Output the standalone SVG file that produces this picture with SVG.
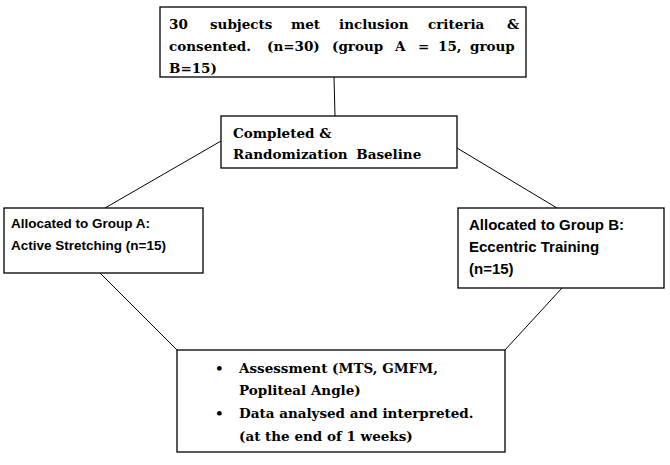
<svg xmlns="http://www.w3.org/2000/svg" width="670" height="465" viewBox="0 0 670 465">
<style>
rect{fill:#fff;stroke:#000;stroke-width:1.3}
.s{font-family:"DejaVu Serif","Liberation Serif",serif;font-weight:bold;font-size:13.5px;fill:#000}
.a{font-family:"Liberation Sans",Arial,sans-serif;font-weight:bold;font-size:13.5px;fill:#000}
#edges line{stroke:#000;stroke-width:1}
</style>
<rect width="670" height="465" style="fill:#fff;stroke:none"/>
<g id="edges">
<line x1="334" y1="77" x2="335" y2="116"/>
<line x1="221" y1="141" x2="105" y2="208"/>
<line x1="457" y1="148" x2="557" y2="208"/>
<line x1="100" y1="273" x2="177" y2="350"/>
<line x1="562" y1="288" x2="505" y2="350"/>
</g>
<g id="n1"><rect x="160" y="7" width="366" height="70"/>
<text class="s" y="29"><tspan x="169">30</tspan><tspan x="210">subjects</tspan><tspan x="291">met</tspan><tspan x="339">inclusion</tspan><tspan x="428">criteria</tspan><tspan x="507">&amp;</tspan></text>
<text class="s" y="51"><tspan x="169">consented.</tspan><tspan x="267">(n=30)</tspan><tspan x="332">(group</tspan><tspan x="395">A</tspan><tspan x="418">=</tspan><tspan x="438">15,</tspan><tspan x="470">group</tspan></text>
<text class="s" x="169" y="73">B=15)</text></g>
<g id="n2"><rect x="221" y="116" width="236" height="52"/>
<text class="s" x="233" y="138">Completed &amp;</text>
<text class="s" x="233" y="159" word-spacing="4">Randomization Baseline</text></g>
<g id="n3"><rect x="4" y="208" width="199" height="65"/>
<text class="a" x="11" y="228">Allocated to Group A:</text>
<text class="a" x="11" y="250">Active Stretching (n=15)</text></g>
<g id="n4"><rect x="458" y="208" width="206" height="80"/>
<text class="a" x="469" y="230" style="font-size:15px">Allocated to Group B:</text>
<text class="a" x="469" y="252" style="font-size:15px">Eccentric Training</text>
<text class="a" x="469" y="274" style="font-size:15px">(n=15)</text></g>
<g id="n5"><rect x="177" y="350" width="328" height="102"/>
<text class="s" x="215" y="373">•</text>
<text class="s" x="239" y="373">Assessment (MTS, GMFM,</text>
<text class="s" x="239" y="395">Popliteal Angle)</text>
<text class="s" x="215" y="418">•</text>
<text class="s" x="239" y="418">Data analysed and interpreted.</text>
<text class="s" x="239" y="441">(at the end of 1 weeks)</text></g>
</svg>
